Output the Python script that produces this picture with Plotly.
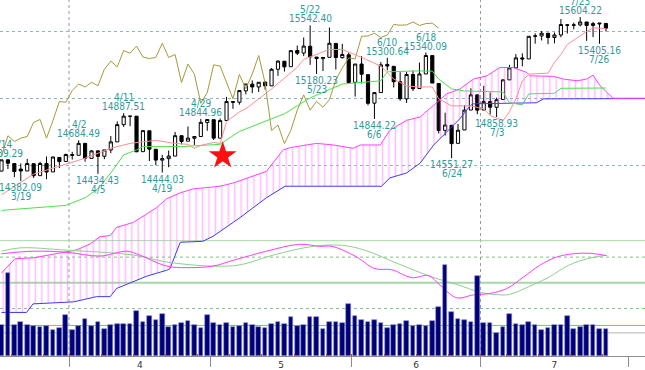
import datetime
import plotly.graph_objects as go

# ---------------- data (DJIA, Mar 14 - Jul 29 2013) ----------------
DATES = ["3/14", "3/15", "3/18", "3/19", "3/20", "3/21", "3/22", "3/25", "3/26", "3/27", "3/28",
         "4/1", "4/2", "4/3", "4/4", "4/5", "4/8", "4/9", "4/10", "4/11", "4/12", "4/15", "4/16",
         "4/17", "4/18", "4/19", "4/22", "4/23", "4/24", "4/25", "4/26", "4/29", "4/30",
         "5/1", "5/2", "5/3", "5/6", "5/7", "5/8", "5/9", "5/10", "5/13", "5/14", "5/15", "5/16",
         "5/17", "5/20", "5/21", "5/22", "5/23", "5/24", "5/28", "5/29", "5/30", "5/31",
         "6/3", "6/4", "6/5", "6/6", "6/7", "6/10", "6/11", "6/12", "6/13", "6/14", "6/17", "6/18",
         "6/19", "6/20", "6/21", "6/24", "6/25", "6/26", "6/27", "6/28",
         "7/1", "7/2", "7/3", "7/5", "7/8", "7/9", "7/10", "7/11", "7/12", "7/15", "7/16", "7/17",
         "7/18", "7/19", "7/22", "7/23", "7/24", "7/25", "7/26", "7/29"]
YEAR = 2013

OPEN = [14455, 14539, 14511, 14470, 14456, 14510, 14421, 14512, 14449, 14557, 14527,
        14579, 14573, 14662, 14550, 14606, 14566, 14613, 14673, 14802, 14864, 14865, 14600,
        14756, 14618, 14537, 14548, 14567, 14719, 14678, 14700, 14713, 14818,
        14839, 14701, 14833, 14974, 14969, 15054, 15104, 15083, 15119, 15091, 15215, 15275,
        15234, 15355, 15336, 15387, 15306, 15294, 15304, 15408, 15302, 15323,
        15117, 15254, 15175, 14962, 15041, 15251, 15237, 15122, 14994, 15176, 15071, 15180,
        15317, 15109, 14759, 14797, 14662, 14762, 14911, 15024,
        14911, 14974, 14931, 14989, 15136, 15225, 15300, 15292, 15461, 15464, 15484, 15452,
        15471, 15547, 15544, 15546, 15568, 15542, 15553, 15557]
HIGH = [14539.29, 14539, 14513, 14512, 14546, 14512, 14525, 14564, 14564, 14557, 14585,
        14599, 14684.49, 14662, 14609, 14606, 14614, 14717, 14826, 14887.51, 14865, 14865, 14757,
        14756, 14619, 14576, 14609, 14747, 14719, 14788, 14715, 14844.96, 14843,
        14839, 14848, 15009, 14974, 15056, 15106, 15132, 15119, 15126, 15224, 15282, 15276,
        15355, 15392, 15452, 15542.40, 15306, 15304, 15527, 15408, 15404, 15340,
        15255, 15313, 15175, 15041, 15269, 15300.64, 15237, 15193, 15194, 15206, 15265, 15340.09,
        15318, 15112, 14891, 14797, 14807, 14947, 15073, 15024,
        15092, 15042, 15003, 15141, 15248, 15328, 15334, 15461, 15483, 15500, 15484, 15490,
        15590, 15552, 15563, 15604.22, 15568, 15569, 15559, 15557]
LOW = [14455, 14470, 14410, 14382.09, 14456, 14404, 14421, 14395, 14449, 14478, 14527,
       14541, 14573, 14525, 14550, 14434.43, 14544, 14589, 14673, 14785, 14790, 14598, 14600,
       14530, 14499, 14444.03, 14484, 14567, 14654, 14678, 14650, 14713, 14756,
       14687, 14701, 14833, 14920, 14951, 15028, 15037, 15045, 15063, 15091, 15166, 15198,
       15234, 15321, 15313, 15248, 15180.23, 15202, 15304, 15213, 15294, 15116,
       15011, 15110, 14946, 14844.22, 15041, 15207, 15079, 14980, 14964, 15053, 15071, 15180,
       15112, 14736, 14720, 14551.27, 14662, 14762, 14911, 14880,
       14911, 14877, 14858.93, 14989, 15136, 15225, 15237, 15292, 15406, 15430, 15402, 15408,
       15454, 15482, 15513, 15535, 15427, 15455, 15405.16, 15498]
CLOSE = [14539, 14514, 14452, 14456, 14512, 14421, 14512, 14448, 14560, 14526, 14579,
         14573, 14662, 14550, 14606, 14565, 14613, 14673, 14802, 14865, 14865, 14599, 14757,
         14619, 14537, 14548, 14567, 14719, 14676, 14701, 14713, 14819, 14840,
         14701, 14832, 14974, 14969, 15056, 15105, 15083, 15118, 15092, 15215, 15276, 15233,
         15354, 15335, 15388, 15307, 15295, 15303, 15409, 15303, 15325, 15116,
         15254, 15178, 14961, 15041, 15248, 15239, 15122, 14995, 15176, 15070, 15180, 15318,
         15112, 14758, 14799, 14660, 14760, 14910, 15024, 14910,
         14975, 14932, 14988, 15136, 15225, 15300, 15292, 15461, 15464, 15484, 15452, 15471,
         15549, 15544, 15546, 15568, 15542, 15556, 15559, 15522]
VOLUME = [106, 281, 106, 114, 104, 102, 98, 102, 87, 93, 139,
          89, 100, 126, 102, 113, 91, 104, 109, 109, 109, 151, 116,
          134, 123, 142, 98, 104, 110, 118, 104, 93, 139,
          112, 104, 110, 98, 100, 112, 104, 98, 93, 109, 114, 107,
          132, 102, 106, 132, 132, 91, 116, 113, 110, 176,
          136, 121, 116, 123, 112, 93, 106, 109, 118, 100, 106, 100,
          119, 164, 308, 149, 126, 120, 114, 269,
          110, 110, 77, 98, 140, 109, 103, 114, 106, 88, 96, 104,
          103, 136, 91, 97, 106, 106, 92, 90]

# Ichimoku lines (vertices; x = trading-day index)
TENKAN_X = [0, 5, 10, 13, 17, 20, 24, 27, 29, 30, 31, 33, 34, 35, 37, 38, 42, 46, 47, 51, 53,
            56, 59, 61, 63, 65, 67, 68, 70, 73, 75, 76, 78, 79, 80, 81, 82, 85, 86, 87, 88,
            90, 91, 92, 94]
TENKAN = [14278, 14433, 14507, 14551, 14625, 14662, 14684, 14662, 14655, 14625, 14647, 14669,
          14662, 14824, 14898, 14920, 15068, 15230, 15289, 15363, 15363, 15304, 15238, 15142,
          15090, 15083, 15083, 14994, 14942, 14942, 14920, 14869, 14832, 14898, 14994, 15127,
          15179, 15186, 15267, 15326, 15400, 15466, 15496, 15525, 15518]
KIJUN_X = [0, 10, 13, 15, 17, 19, 21, 22, 28, 31, 34, 37, 44, 48, 53, 59, 60, 65, 67, 68, 70,
           72, 78, 79, 81, 82, 86, 87, 94]
KIJUN = [14162, 14199, 14256, 14323, 14441, 14576, 14613, 14638, 14638, 14649, 14655, 14751,
         14883, 15001, 15105, 15129, 15196, 15203, 15201, 15142, 15068, 15053, 15046, 14965,
         14950, 15031, 15036, 15073, 15075]
CHIKOU_LAG = 26
SPAN_A_X = [0, 2.1, 5, 8.6, 11.7, 13.8, 15.3, 16.9, 17.9, 20.5, 22.6, 24.1, 25.7, 27.8, 29.8,
            31.9, 34, 36.1, 37.6, 41.2, 43.8, 44.9, 49, 51.6, 54.7, 55.8, 58.9, 60.4, 63, 65.1,
            67.2, 69.2, 71.3, 73.4, 75.5, 77.5, 79.6, 81.7, 82.2, 83.7, 85.8, 87.4, 89.5, 91,
            92, 93.1, 95.1, 120]
SPAN_A = [13695, 13801, 13808, 13838, 13867, 13912, 13965, 13974, 14035, 14072, 14133, 14182,
          14249, 14293, 14322, 14330, 14342, 14367, 14391, 14453, 14613, 14630, 14662, 14650,
          14625, 14650, 14650, 14760, 14834, 14859, 14945, 15031, 15068, 15142, 15166, 15228,
          15228, 15191, 15166, 15162, 15162, 15142, 15129, 15142, 15171, 15092, 14999, 14999]
SPAN_B_X = [0, 3.9, 4.9, 10.1, 11.2, 14.8, 16.9, 17.9, 20.5, 22.6, 25.7, 26.2, 27.8, 31.3,
            32.9, 34, 37.1, 41.2, 44.1, 59.1, 60.4, 63, 65.1, 67.2, 69.2, 71.3, 72.9, 73.4,
            83.2, 84.3, 120]
SPAN_B = [13400, 13400, 13464, 13479, 13479, 13518, 13518, 13579, 13629, 13671, 13715, 13727,
          13924, 13931, 13968, 14005, 14108, 14256, 14342, 14342, 14404, 14441, 14514, 14649,
          14748, 14846, 14944, 14957, 14965, 14994, 14999]

# Oscillator (MACD-type) lines
MACD_X = [0, 4.9, 10.1, 15.3, 19.5, 21.5, 25.7, 28.8, 32.9, 36.1, 41.2, 46.4, 49.5, 51.4, 55,
          58.1, 60.7, 63.8, 66.4, 68.2, 70.8, 73.4, 76, 78.6, 81.2, 83.7, 86.3, 88.9, 91.5, 94.1]
MACD = [113, 123, 119, 104, 123, 108, 65, 59, 65, 88, 123, 150, 142, 142, 104, 55, 51, 20, 28,
        -9, -58, -47, -41, -22, 23, 68, 100, 113, 115, 106]
SIGNAL_X = [0, 2.9, 10.1, 20.5, 25.7, 32.9, 37.1, 42.3, 48.5, 52.9, 56.5, 61.7, 66.9, 70.5,
            74.7, 77, 79, 82, 85, 88.2, 91.3, 94.1]
SIGNAL = [123, 136, 127, 108, 81, 65, 70, 108, 142, 146, 127, 74, 23, -4, -38, -46, -45, -15,
          20, 68, 95, 107]

HIGH_LABELS = ["3/14", "4/2", "4/11", "4/29", "5/22", "6/10", "6/18", "7/23"]
LOW_LABELS = ["3/19", "4/5", "4/19", "5/23", "6/6", "6/24", "7/3", "7/26"]
MONTH_LABELS = ["4", "5", "6", "7"]
MONTH_FIRST_DAYS = ["4/1", "5/1", "6/3", "7/1"]
NEXT_MONTH_BOUND = 97.5          # August boundary (future area)
QUARTER_FIRST_DAYS = ["4/1", "7/1"]
PRICE_GRID = [14500, 15000, 15500]
OSC_SOLID = [164, 0]
OSC_DOTTED = [100, -100]
VOL_REF_GREEN = 103
VOL_REF_GRAY = 78
STAR_X = 34.4
STAR_PRICE = 14570

# ---------------- derived positions ----------------
N = len(DATES)
IDX = list(range(N))
bounds = [DATES.index(d) - 0.5 for d in MONTH_FIRST_DAYS] + [NEXT_MONTH_BOUND]
centers = [(bounds[k] + bounds[k + 1]) / 2 for k in range(len(MONTH_LABELS))]
quarters = [DATES.index(d) - 0.5 for d in QUARTER_FIRST_DAYS]


def wd(d):
    m, dd = d.split("/")
    return datetime.date(YEAR, int(m), int(dd)).weekday()


weeks = [i - 0.5 for i in range(1, N) if wd(DATES[i]) < wd(DATES[i - 1])]

XR = [-0.233, 100.08]
PRICE_RANGE = [13075, 15732]
OSC_RANGE = [-284.6, 1100]
VOL_RANGE = [0, 1200]

fig = go.Figure()

# cloud
fig.add_trace(go.Scatter(x=SPAN_B_X, y=SPAN_B, mode="lines",
                         line=dict(color="#3b3bff", width=1), hoverinfo="skip"))
fig.add_trace(go.Scatter(x=SPAN_A_X, y=SPAN_A, mode="lines",
                         line=dict(color="#ff40ff", width=1), fill="tonexty",
                         fillcolor="rgba(0,0,0,0)",
                         fillpattern=dict(shape="|", fgcolor="#ff80ff", bgcolor="rgba(0,0,0,0)",
                                          size=6.43, solidity=0.24),
                         hoverinfo="skip"))
# chikou
fig.add_trace(go.Scatter(x=[i - CHIKOU_LAG for i in IDX[CHIKOU_LAG:]], y=CLOSE[CHIKOU_LAG:],
                         mode="lines", line=dict(color="#a39b3c", width=1)))
fig.add_trace(go.Scatter(x=KIJUN_X, y=KIJUN, mode="lines", line=dict(color="#4be24b", width=1)))
fig.add_trace(go.Scatter(x=TENKAN_X, y=TENKAN, mode="lines", line=dict(color="#ff8f8f", width=1)))

fig.add_trace(go.Candlestick(x=IDX, open=OPEN, high=HIGH, low=LOW, close=CLOSE,
                             increasing=dict(line=dict(color="black", width=1), fillcolor="white"),
                             decreasing=dict(line=dict(color="black", width=1), fillcolor="black"),
                             whiskerwidth=0))
fig.add_trace(go.Scatter(x=[STAR_X], y=[STAR_PRICE], mode="markers",
                         marker=dict(symbol="star", size=21, color="#ff1010", line=dict(width=0))))

# oscillator
fig.add_trace(go.Scatter(x=SIGNAL_X, y=SIGNAL, mode="lines", yaxis="y2",
                         line=dict(color="#8fcf8f", width=1, shape="spline")))
fig.add_trace(go.Scatter(x=MACD_X, y=MACD, mode="lines", yaxis="y2",
                         line=dict(color="#ff3cff", width=1, shape="spline")))

# volume
fig.add_trace(go.Bar(x=IDX, y=VOLUME, yaxis="y3", width=0.72,
                     marker=dict(color="#000078", line=dict(color="#8a8ac8", width=0.6))))

# helper for week ticks axis
fig.add_trace(go.Scatter(x=[XR[0]], y=[PRICE_RANGE[0]], xaxis="x2", mode="markers",
                         marker=dict(opacity=0), hoverinfo="skip"))

shapes = []
for q in quarters:
    shapes.append(dict(type="line", xref="x", yref="paper", x0=q, x1=q, y0=0, y1=1,
                       line=dict(color="#9a9a9a", width=1, dash="dot"), layer="below"))
for v in OSC_SOLID:
    shapes.append(dict(type="line", xref="paper", yref="y2", x0=0, x1=1, y0=v, y1=v,
                       line=dict(color="#a6d8a6", width=2 if v == 0 else 1), layer="below"))
for v in OSC_DOTTED:
    shapes.append(dict(type="line", xref="paper", yref="y2", x0=0, x1=1, y0=v, y1=v,
                       line=dict(color="#7fc47f", width=1, dash="dot"), layer="below"))
shapes.append(dict(type="line", xref="paper", yref="y3", x0=0, x1=1, y0=VOL_REF_GREEN,
                   y1=VOL_REF_GREEN, line=dict(color="#7cc07c", width=1), layer="below"))
shapes.append(dict(type="line", xref="paper", yref="y3", x0=0, x1=1, y0=VOL_REF_GRAY,
                   y1=VOL_REF_GRAY, line=dict(color="#b4b4b4", width=1), layer="below"))

LABEL_FONT = dict(family="Liberation Sans Narrow, DejaVu Sans Condensed, sans-serif",
                  size=10, color="#2f9a9a")
ann = []
for d in HIGH_LABELS:
    i = DATES.index(d)
    ann.append(dict(x=i, y=HIGH[i], xref="x", yref="y", text=f"{HIGH[i]:.2f}", showarrow=False,
                    xanchor="center", yanchor="bottom", yshift=-1, font=LABEL_FONT))
    ann.append(dict(x=i, y=HIGH[i], xref="x", yref="y", text=d, showarrow=False,
                    xanchor="center", yanchor="bottom", yshift=8, font=LABEL_FONT))
for d in LOW_LABELS:
    i = DATES.index(d)
    ann.append(dict(x=i, y=LOW[i], xref="x", yref="y", text=f"{LOW[i]:.2f}", showarrow=False,
                    xanchor="center", yanchor="top", yshift=1, font=LABEL_FONT))
    ann.append(dict(x=i, y=LOW[i], xref="x", yref="y", text=d, showarrow=False,
                    xanchor="center", yanchor="top", yshift=-8, font=LABEL_FONT))

fig.update_layout(
    width=645, height=370, margin=dict(l=0, r=0, t=0, b=10),
    paper_bgcolor="white", plot_bgcolor="white", showlegend=False,
    bargap=0, shapes=shapes, annotations=ann,
    xaxis=dict(range=XR, showgrid=False, zeroline=False, tickmode="array", tickvals=centers,
               ticktext=MONTH_LABELS, ticks="", tickfont=dict(size=9, color="#333333",
                                                               family="DejaVu Sans"),
               showline=True, linecolor="#8c8c8c", linewidth=1,
               rangeslider=dict(visible=False),
               minor=dict(tickmode="array", tickvals=bounds, ticks="outside", ticklen=10,
                          tickcolor="#8c8c8c", showgrid=False)),
    xaxis2=dict(overlaying="x", range=XR, anchor="y", side="bottom", tickmode="array",
                tickvals=weeks, ticks="inside", ticklen=2, tickcolor="#ff3030",
                showticklabels=False, showgrid=False, zeroline=False, showline=False),
    yaxis=dict(range=PRICE_RANGE, tickmode="array", tickvals=PRICE_GRID, showgrid=True,
               gridcolor="#88b9c2", griddash="dot", gridwidth=1, showticklabels=False,
               zeroline=False, ticks=""),
    yaxis2=dict(overlaying="y", range=OSC_RANGE, visible=False),
    yaxis3=dict(overlaying="y", range=VOL_RANGE, visible=False),
)

fig.write_html("out.html", config={"displayModeBar": False},
               post_script="document.body.style.margin='0px';document.body.style.padding='0px';")
